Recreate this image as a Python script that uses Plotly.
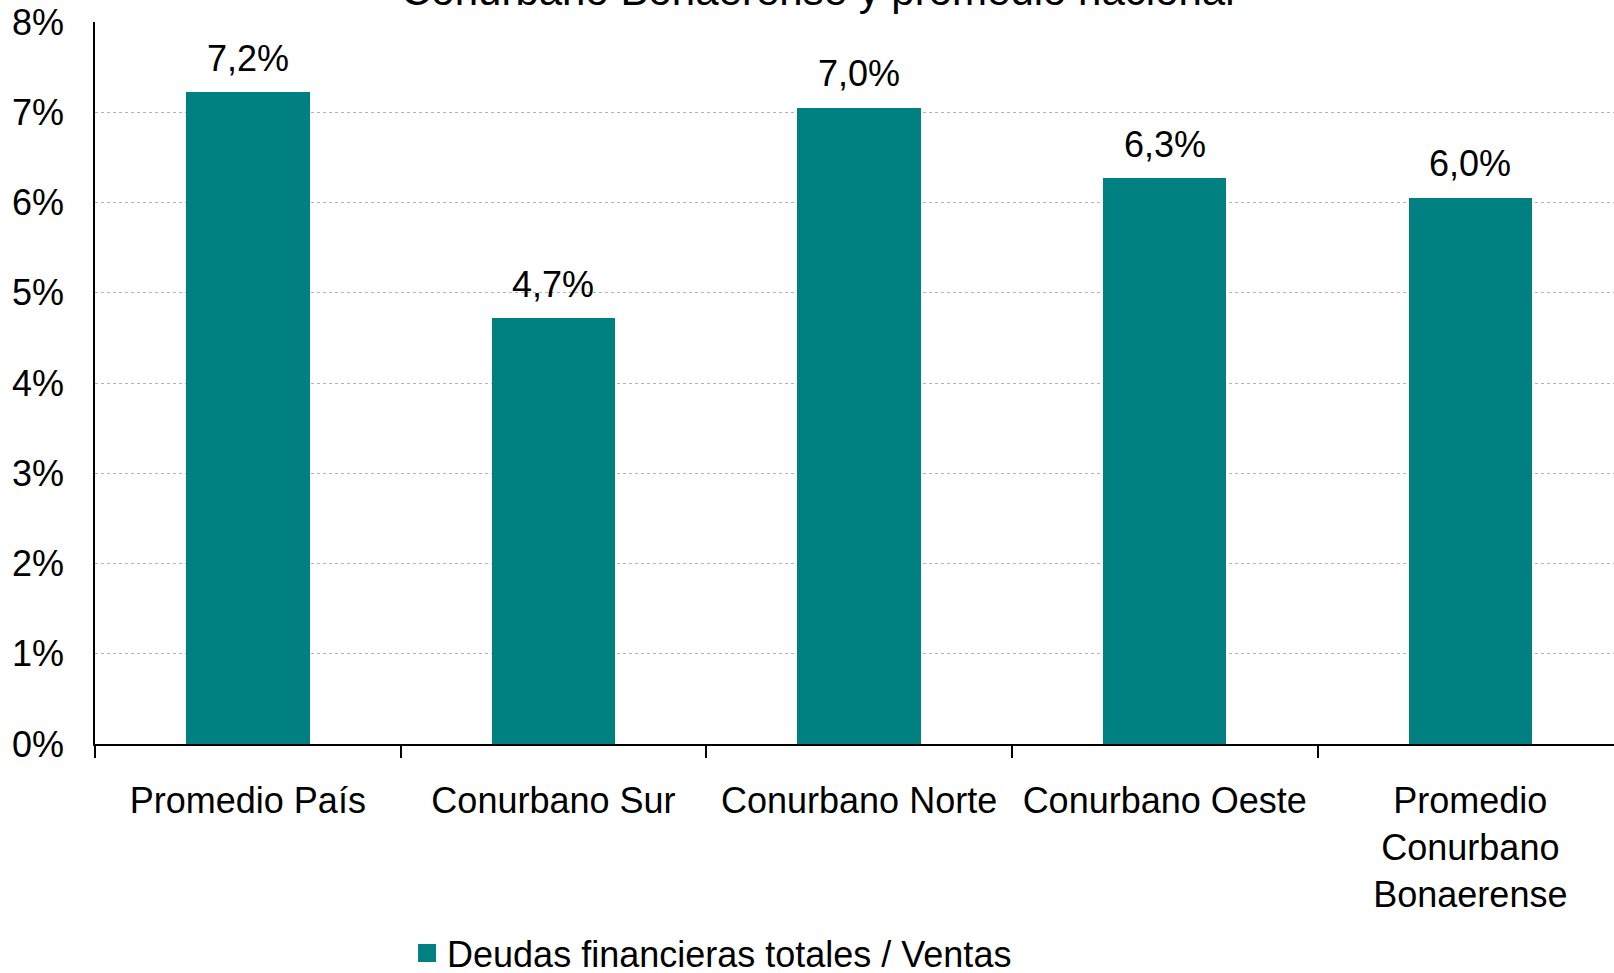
import plotly.graph_objects as go

categories = ["Promedio País", "Conurbano Sur", "Conurbano Norte", "Conurbano Oeste",
              "Promedio<br>Conurbano<br>Bonaerense"]
values = [7.22, 4.72, 7.05, 6.27, 6.05]
value_labels = ["7,2%", "4,7%", "7,0%", "6,3%", "6,0%"]
y_ticks = [0, 1, 2, 3, 4, 5, 6, 7, 8]
y_tick_labels = ["0%", "1%", "2%", "3%", "4%", "5%", "6%", "7%", "8%"]
series_name = "Deudas financieras totales / Ventas"
title_text = "Conurbano Bonaerense y promedio nacional"

FONT = "Liberation Sans, Arial, sans-serif"
TEAL = "#008080"
FS = 36

fig = go.Figure()
fig.add_trace(go.Bar(
    x=categories, y=values, name=series_name,
    marker=dict(color=TEAL, line=dict(width=0)),
    width=0.404, showlegend=False,
))
# legend entry for the series (bigger square symbol)
fig.add_trace(go.Scatter(
    x=[None], y=[None], mode="markers", name=series_name,
    marker=dict(symbol="square", size=16, color=TEAL, line=dict(color=TEAL, width=2)),
    showlegend=True,
))

for c, v, t in zip(categories, values, value_labels):
    fig.add_annotation(x=c, y=v, text=t, showarrow=False, yanchor="middle",
                       yshift=34, font=dict(family=FONT, size=FS, color="black"))

fig.add_annotation(xref="paper", yref="paper", x=0.476, y=1, yanchor="bottom",
                   yshift=6, text=title_text, showarrow=False,
                   font=dict(family=FONT, size=42, color="black"))

fig.update_layout(
    width=1614, height=973,
    margin=dict(l=95, r=0, t=22, b=229, autoexpand=False),
    paper_bgcolor="white", plot_bgcolor="white",
    font=dict(family=FONT, size=FS, color="black"),
    bargap=0,
    legend=dict(orientation="h", xref="container", x=0.2522, xanchor="left",
                yref="container", y=0.0514, yanchor="top",
                font=dict(family=FONT, size=FS, color="black"),
                itemsizing="trace",
                bgcolor="rgba(0,0,0,0)"),
)

fig.update_xaxes(
    range=[-0.5, 4.47], automargin=False,
    showline=True, linecolor="black", linewidth=1.5,
    ticks="outside", tickson="boundaries", ticklen=12, tickcolor="black", tickwidth=1.5,
    showgrid=False, tickfont=dict(family=FONT, size=FS),
    ticklabelstandoff=24, ticklabeloverflow="allow",
)
fig.update_yaxes(
    range=[0, 8], tickvals=y_ticks, ticktext=y_tick_labels, automargin=False,
    showline=True, linecolor="black", linewidth=1.5,
    showgrid=True, gridcolor="#b4b4b4", griddash="3px,3px", gridwidth=1,
    zeroline=False, ticks="", tickfont=dict(family=FONT, size=FS),
    ticklabelstandoff=22, ticklabeloverflow="allow",
)

# remove the default 8px page margin so the figure sits flush in the window
fig.write_html("out.html", config={"displayModeBar": False},
               post_script="document.body.style.margin='0';document.body.style.overflow='hidden';")
